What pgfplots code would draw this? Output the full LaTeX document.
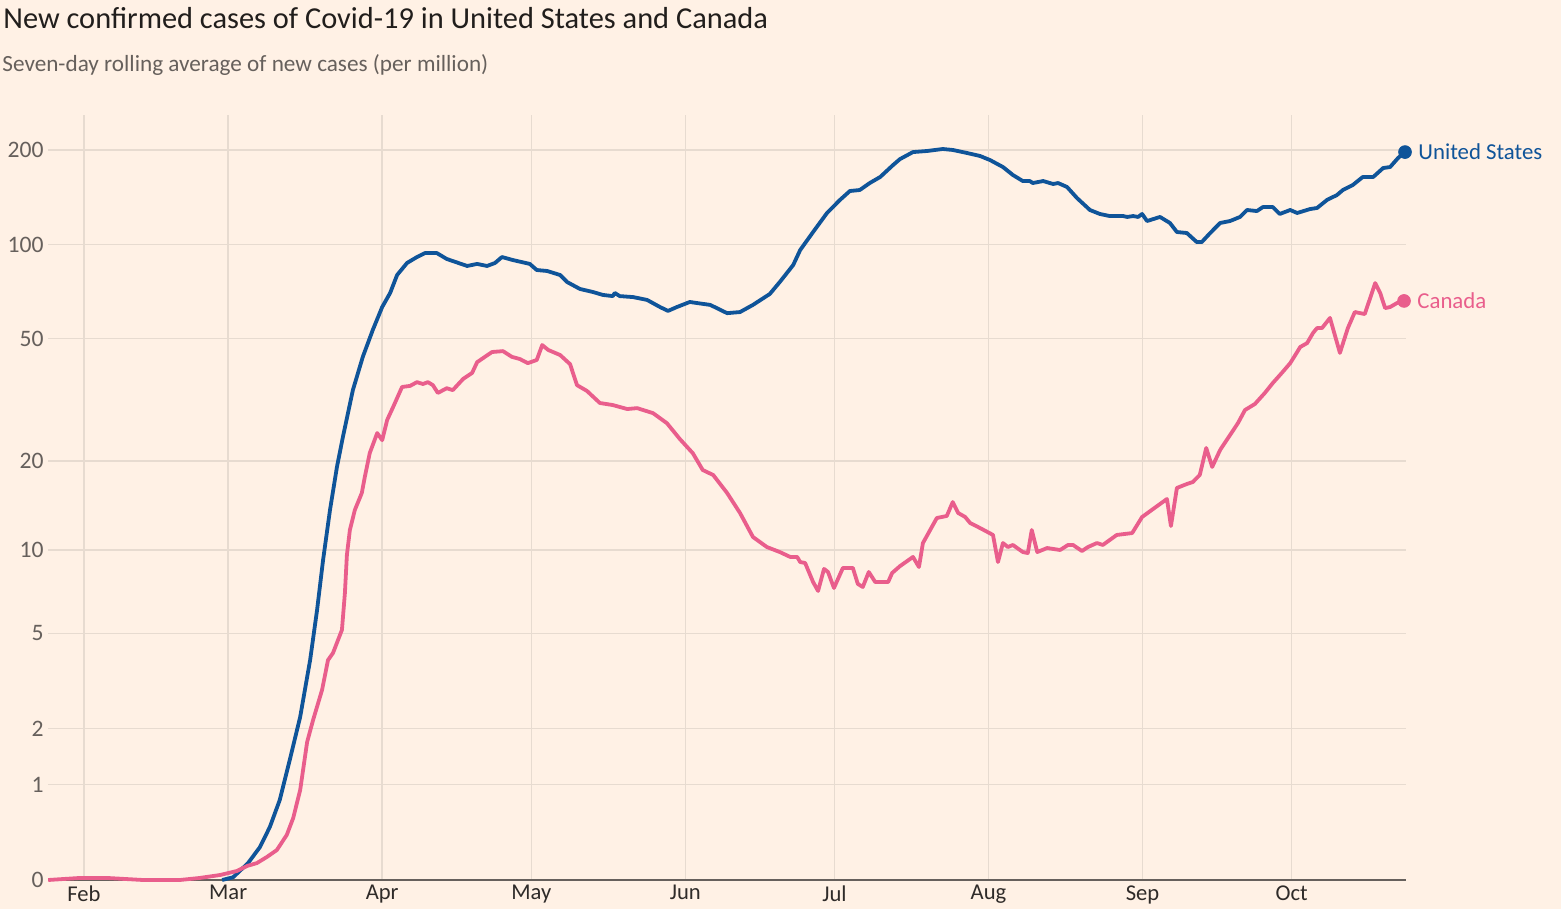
\documentclass[border=0pt]{standalone}
\usepackage{fontspec}
\setmainfont{Carlito}
\usepackage{pgfplots}
\pgfplotsset{compat=1.18}
\usepackage{pgfplotstable}
\definecolor{bg}{RGB}{255,241,229}
\definecolor{gridc}{RGB}{231,219,208}
\definecolor{axisc}{RGB}{102,96,92}
\definecolor{titlec}{RGB}{33,30,28}
\definecolor{subc}{RGB}{102,96,92}
\definecolor{usblue}{RGB}{15,84,153}
\definecolor{capink}{RGB}{233,94,140}

\pgfplotstableread{
day val
27.8 0
30.0 0.02
33.0 0.13
35.4 0.27
37.4 0.47
39.4 0.79
41.4 1.39
43.5 2.27
45.5 3.94
46.9 6.11
48.1 9.2
49.5 13.7
50.9 19.1
52.1 24.0
54.1 34.1
56.1 43.7
58.1 53.3
60.0 63.2
61.6 70.1
63.0 80
65.0 87.4
67.0 91.3
68.6 94
71.0 94
73.0 90
77.1 85.5
79.1 86.8
81.1 85.5
82.7 87.4
84.1 91.3
86.3 89.3
89.7 86.8
91.1 83
93.2 82.4
95.8 80
97.2 76
99.8 72.2
102.4 70.6
104.4 69.1
106.4 68.5
106.8 70.1
107.8 68.5
110.5 68
113.3 66.6
115.9 63.2
117.5 61.4
119.3 63.2
121.9 65.6
123.3 65.1
126.0 64.2
129.4 60.4
132.0 60.9
134.6 64.2
138.0 69.6
140.0 76
142.7 86.1
144.1 96.1
146.7 109.7
149.5 126.1
152.1 138.7
154.1 148.1
156.1 149.2
158.1 157
160.2 164.1
162.8 179.1
164.2 187.1
166.8 196.9
169.6 198.4
172.8 201.3
174.8 199.9
177.7 195.5
180.3 191.3
182.3 185.7
184.9 176.5
186.9 166.5
188.9 159.3
190.3 159.3
190.9 157
193.0 159.3
195.0 155.9
196.0 157
197.8 152.5
199.8 140.7
202.4 128.9
204.4 125.2
206.4 123.3
209.1 123.3
209.9 122.5
211.1 123.3
212.1 122.5
212.9 125.2
213.9 118.9
216.5 122.5
218.5 117.2
219.9 109.7
221.9 108.9
223.9 101.9
224.9 101.9
226.6 108.9
228.6 117.2
230.6 118.9
232.6 122.5
234.0 128.9
236.0 127.9
237.2 131.7
239.2 131.7
240.6 125.2
242.7 128.9
244.1 126.1
246.7 129.8
248.1 130.8
250.1 138.7
252.1 143.8
253.3 149.2
255.3 154.8
257.3 164.1
259.4 164.1
261.4 175.2
262.8 176.5
264.4 188.5
265.8 196.9
}\us

\pgfplotstableread{
day val
-7.2 0
-0.8 0.015
4.6 0.015
11.9 0
19.3 0
23.3 0.015
27.4 0.037
30.8 0.068
32.8 0.107
34.8 0.131
36.8 0.182
38.8 0.243
40.8 0.387
42.1 0.569
43.5 0.923
44.9 1.725
46.1 2.198
47.9 2.976
49.1 3.94
50.1 4.20
51.9 5.15
52.5 7.04
52.9 9.60
53.5 11.71
54.5 13.7
55.9 15.63
56.5 17.67
57.5 21.23
59.0 24.7
60.0 23.4
61.0 27.26
62.2 30.05
64.0 34.92
65.6 35.2
67.0 36.2
68.2 35.7
69.2 36.2
70.2 35.4
71.2 33.4
73.0 34.6
74.2 34.1
76.3 37.1
78.1 38.8
79.1 42.0
80.3 43.3
82.1 45.3
84.3 45.6
86.1 43.7
87.7 43.0
89.3 41.7
91.1 42.7
92.2 47.7
93.4 46.0
95.8 44.3
97.8 41.4
99.2 35.4
101.2 33.9
103.8 30.97
106.4 30.5
109.3 29.6
111.3 29.8
114.5 28.7
117.3 26.6
119.9 23.6
122.5 21.2
124.5 18.65
126.6 17.95
129.4 15.63
132.0 13.38
134.6 11.08
137.4 10.23
140.0 9.83
142.1 9.45
143.5 9.45
144.1 9.07
145.1 9.0
146.7 7.71
147.7 7.16
148.9 8.58
149.7 8.37
150.9 7.34
152.7 8.65
154.7 8.65
155.7 7.59
156.7 7.40
157.9 8.37
159.2 7.71
161.8 7.71
162.6 8.30
164.2 8.78
166.8 9.45
168.0 8.71
168.8 10.56
171.6 12.87
173.6 13.07
174.8 14.57
175.9 13.38
177.3 12.97
178.3 12.37
180.3 11.89
182.9 11.26
183.9 9.07
184.9 10.56
185.9 10.23
186.9 10.40
188.9 9.83
189.9 9.75
190.7 11.71
191.8 9.83
193.8 10.15
196.4 9.99
198.0 10.40
199.0 10.40
200.8 9.91
202.0 10.23
203.8 10.56
205.0 10.40
207.8 11.26
210.9 11.43
212.9 12.97
215.1 13.80
217.9 14.92
218.7 12.08
219.9 16.25
221.9 16.75
223.1 17.01
224.5 17.95
225.8 22.06
227.0 19.09
228.6 21.73
230.6 24.34
232.2 26.65
233.6 29.38
235.6 30.75
237.6 33.4
239.2 35.97
241.0 38.76
242.7 41.7
244.1 45.3
244.7 47.0
246.1 48.4
247.3 52.2
248.1 54.1
249.1 54.1
250.7 58.3
252.7 45.0
254.3 54.1
255.7 60.9
257.7 60.0
259.8 75.4
260.8 70.1
261.8 62.7
262.8 63.2
264.2 65.1
265.6 66.1
}\ca

\begin{document}
\begin{tikzpicture}
\fill[bg] (0pt,0pt) rectangle (780.5pt,454.5pt);
\path[use as bounding box] (0pt,0pt) rectangle (780.5pt,454.5pt);
\node[anchor=base west, inner sep=0pt, text=titlec, font=\fontsize{15.2}{18}\selectfont] at (1.5pt,440pt) {New confirmed cases of Covid-19 in United States and Canada};
\node[anchor=base west, inner sep=0pt, text=subc, font=\fontsize{11.6}{13}\selectfont] at (1pt,418.5pt) {Seven-day rolling average of new cases (per million)};
\begin{axis}[
  at={(24pt,14.5pt)}, anchor=south west,
  scale only axis, width=679pt, height=382.5pt,
  xmin=-7.24, xmax=266, ymin=0, ymax=258,
  y coord trafo/.code={\pgfmathparse{ln(#1+1)/ln(10)}},
  ytick={0,1,2,5,10,20,50,100,200},
  yticklabels={0,1,2,5,10,20,50,100,200},
  xtick={0,29,60,90,121,151,182,213,243},
  xticklabels={Feb,Mar,Apr,May,Jun,Jul,Aug,Sep,Oct},
  /pgf/number format/assume math mode=true,
  grid=major,
  major grid style={draw=gridc, line width=0.7pt},
  major tick length=0pt,
  axis x line*=bottom, axis y line*=left,
  x axis line style={draw=axisc, line width=0.7pt},
  y axis line style={draw=none},
  yticklabel style={anchor=east, inner sep=0pt, xshift=-2pt, text=subc, font=\fontsize{11.8}{13}\selectfont},
  xticklabel style={anchor=north, inner sep=0pt, yshift=-2.5pt, text=titlec!80!subc, font=\fontsize{11.3}{13}\selectfont},
  clip=false,
]
\addplot[usblue, line width=1.9pt, line join=round] table[x=day,y=val] {\us};
\addplot[capink, line width=1.9pt, line join=round] table[x=day,y=val] {\ca};
\addplot[only marks, mark=*, mark size=3.2pt, color=usblue] coordinates {(265.8,196.9)}
  node[anchor=west, inner sep=0pt, xshift=6.5pt, text=usblue, font=\fontsize{11.4}{13}\selectfont] {United States};
\addplot[only marks, mark=*, mark size=3.2pt, color=capink] coordinates {(265.6,66.1)}
  node[anchor=west, inner sep=0pt, xshift=6.5pt, text=capink, font=\fontsize{11.4}{13}\selectfont] {Canada};
\end{axis}
\end{tikzpicture}
\end{document}
